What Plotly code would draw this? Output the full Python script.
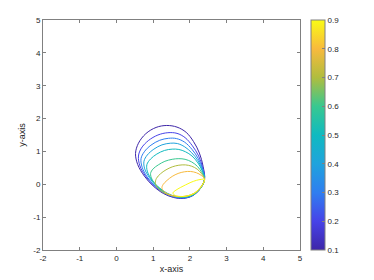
import plotly.graph_objects as go

levels = [0.1, 0.2, 0.3, 0.4, 0.5, 0.6, 0.7, 0.8, 0.9]

c01_x = [2.40, 2.36, 2.26, 2.10, 1.90, 1.65, 1.37, 1.08, 0.80, 0.60, 0.52, 0.58, 0.76, 1.00, 1.28, 1.55, 1.82, 2.07, 2.27, 2.40]
c01_y = [0.15, 0.55, 0.95, 1.30, 1.58, 1.74, 1.79, 1.73, 1.54, 1.25, 0.94, 0.60, 0.25, -0.05, -0.28, -0.40, -0.43, -0.35, -0.15, 0.15]

c02_x = [2.40, 2.35, 2.24, 2.07, 1.87, 1.65, 1.40, 1.13, 0.87, 0.68, 0.60, 0.64, 0.80, 1.03, 1.30, 1.57, 1.83, 2.08, 2.28, 2.40]
c02_y = [0.15, 0.50, 0.86, 1.17, 1.42, 1.55, 1.57, 1.50, 1.33, 1.10, 0.86, 0.56, 0.24, -0.05, -0.27, -0.39, -0.42, -0.34, -0.14, 0.15]

c03_x = [2.40, 2.35, 2.23, 2.06, 1.86, 1.64, 1.42, 1.18, 0.94, 0.76, 0.67, 0.70, 0.84, 1.06, 1.32, 1.58, 1.84, 2.09, 2.28, 2.40]
c03_y = [0.15, 0.46, 0.78, 1.06, 1.28, 1.39, 1.40, 1.34, 1.19, 0.99, 0.78, 0.52, 0.22, -0.06, -0.27, -0.38, -0.41, -0.33, -0.13, 0.15]

c04_x = [2.40, 2.34, 2.22, 2.05, 1.86, 1.66, 1.47, 1.24, 1.02, 0.84, 0.75, 0.77, 0.90, 1.10, 1.35, 1.60, 1.85, 2.10, 2.29, 2.40]
c04_y = [0.15, 0.43, 0.72, 0.96, 1.14, 1.24, 1.25, 1.20, 1.07, 0.89, 0.70, 0.47, 0.20, -0.07, -0.27, -0.38, -0.40, -0.32, -0.12, 0.15]

c05_x = [2.40, 2.34, 2.22, 2.06, 1.88, 1.70, 1.52, 1.31, 1.10, 0.93, 0.83, 0.84, 0.95, 1.14, 1.38, 1.62, 1.86, 2.11, 2.29, 2.40]
c05_y = [0.15, 0.40, 0.65, 0.86, 0.99, 1.06, 1.07, 1.03, 0.92, 0.77, 0.60, 0.40, 0.16, -0.08, -0.27, -0.37, -0.39, -0.31, -0.11, 0.15]

c06_x = [2.40, 2.33, 2.21, 2.05, 1.87, 1.70, 1.52, 1.32, 1.14, 1.00, 0.93, 0.97, 1.10, 1.28, 1.50, 1.73, 1.95, 2.16, 2.31, 2.40]
c06_y = [0.15, 0.35, 0.54, 0.68, 0.76, 0.78, 0.76, 0.70, 0.59, 0.47, 0.33, 0.15, -0.05, -0.22, -0.34, -0.38, -0.36, -0.27, -0.09, 0.15]

c07_x = [2.40, 2.32, 2.20, 2.05, 1.88, 1.70, 1.52, 1.35, 1.20, 1.09, 1.06, 1.13, 1.28, 1.48, 1.70, 1.92, 2.13, 2.30, 2.40]
c07_y = [0.15, 0.32, 0.46, 0.55, 0.59, 0.58, 0.53, 0.44, 0.32, 0.18, 0.03, -0.12, -0.25, -0.34, -0.38, -0.36, -0.27, -0.09, 0.15]

c08_x = [2.40, 2.31, 2.18, 2.02, 1.85, 1.68, 1.52, 1.38, 1.27, 1.24, 1.32, 1.48, 1.68, 1.90, 2.12, 2.29, 2.40]
c08_y = [0.15, 0.27, 0.35, 0.39, 0.38, 0.33, 0.24, 0.12, -0.01, -0.12, -0.24, -0.33, -0.37, -0.36, -0.27, -0.09, 0.15]

c09_x = [2.40, 2.31, 2.18, 2.03, 1.88, 1.74, 1.62, 1.54, 1.58, 1.72, 1.90, 2.10, 2.28, 2.40]
c09_y = [0.15, 0.15, 0.12, 0.06, -0.02, -0.10, -0.18, -0.26, -0.33, -0.37, -0.36, -0.29, -0.12, 0.15]

curves_x = [c01_x, c02_x, c03_x, c04_x, c05_x, c06_x, c07_x, c08_x, c09_x]
curves_y = [c01_y, c02_y, c03_y, c04_y, c05_y, c06_y, c07_y, c08_y, c09_y]

tick_vals = [-2, -1, 0, 1, 2, 3, 4, 5]
cbar_ticks = [0.1, 0.2, 0.3, 0.4, 0.5, 0.6, 0.7, 0.8, 0.9]

parula = [
    [0.0, "#3E26A8"],
    [0.125, "#4743E8"],
    [0.25, "#2F7EF0"],
    [0.375, "#1FA3DD"],
    [0.5, "#10BAC0"],
    [0.625, "#38C890"],
    [0.75, "#B0BD3E"],
    [0.875, "#F8BA3D"],
    [1.0, "#F9FB15"],
]

def color_at(v, lo=0.1, hi=0.9):
    t = (v - lo) / (hi - lo)
    for i in range(len(parula) - 1):
        t0, c0 = parula[i]
        t1, c1 = parula[i + 1]
        if t0 <= t <= t1:
            f = 0 if t1 == t0 else (t - t0) / (t1 - t0)
            a = [int(c0[k:k + 2], 16) for k in (1, 3, 5)]
            b = [int(c1[k:k + 2], 16) for k in (1, 3, 5)]
            return "rgb(%d,%d,%d)" % tuple(round(a[j] + f * (b[j] - a[j])) for j in range(3))
    return parula[-1][1]

FONT = "Liberation Sans, Arial, sans-serif"

fig = go.Figure()
for lev, xs, ys in zip(levels, curves_x, curves_y):
    fig.add_trace(go.Scatter(
        x=xs, y=ys, mode="lines",
        line=dict(color=color_at(lev), width=1.0, shape="spline", smoothing=1.0),
        showlegend=False, hoverinfo="skip",
    ))

fig.add_trace(go.Scatter(
    x=[None, None], y=[None, None], mode="markers",
    marker=dict(
        color=[0.1, 0.9], cmin=0.1, cmax=0.9, colorscale=parula, showscale=True,
        colorbar=dict(
            x=1.043, xanchor="left", xref="paper", y=0.5, yanchor="middle",
            len=1.0, lenmode="fraction", thickness=14, thicknessmode="pixels",
            outlinecolor="#808080", outlinewidth=1,
            tickvals=cbar_ticks, ticktext=[str(v) for v in cbar_ticks],
            ticks="inside", ticklen=3, tickcolor="#808080",
            tickfont=dict(family=FONT, size=8, color="#262626"),
            xpad=0, ypad=0,
        ),
    ),
    showlegend=False, hoverinfo="skip",
))

axis_common = dict(
    showgrid=False, zeroline=False, automargin=False,
    showline=True, linecolor="#808080", linewidth=1, mirror="ticks",
    ticks="inside", ticklen=3, tickcolor="#808080",
    tickfont=dict(family=FONT, size=8, color="#262626"),
    tickvals=tick_vals, ticktext=[str(v) for v in tick_vals],
)

fig.update_layout(
    width=374, height=280,
    margin=dict(l=43, r=74, t=20, b=30, autoexpand=False),
    paper_bgcolor="white", plot_bgcolor="white",
    xaxis=dict(axis_common, range=[-2, 5],
               title=dict(text="x-axis", font=dict(family=FONT, size=9, color="#262626"), standoff=4)),
    yaxis=dict(axis_common, range=[-2, 5],
               title=dict(text="y-axis", font=dict(family=FONT, size=9, color="#262626"), standoff=6)),
)

fig.write_html(
    "out.html",
    config={"displayModeBar": False, "staticPlot": True},
    post_script="document.body.style.margin='0';document.body.style.overflow='hidden';",
)
